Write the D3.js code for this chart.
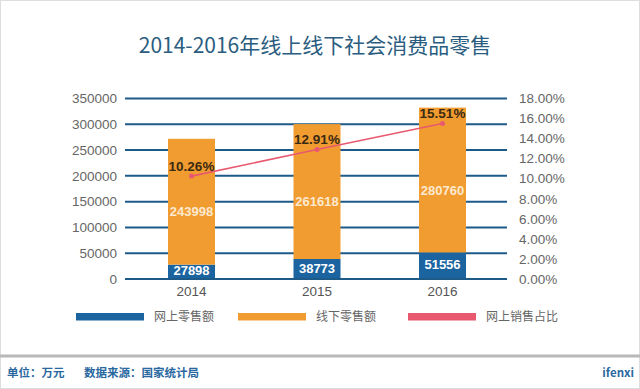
<!DOCTYPE html>
<html>
<head>
<meta charset="utf-8">
<script src="https://cdn.jsdelivr.net/npm/d3@7"></script>
<style>
  html, body { margin: 0; padding: 0; background: #fff; }
  svg text { font-family: "Noto Sans CJK SC", "Noto Sans", sans-serif; }
  svg text.num { font-family: "Liberation Sans", "DejaVu Sans", sans-serif; }
</style>
</head>
<body>
<div id="chart"></div>
<script>
// Data
const years = ["2014", "2015", "2016"];
const online = [27898, 38773, 51556];
const offline = [243998, 261618, 280760];
const onlineShare = [10.26, 12.91, 15.51];
const leftTicks = [0, 50000, 100000, 150000, 200000, 250000, 300000, 350000];
const rightTicks = [0, 2, 4, 6, 8, 10, 12, 14, 16, 18];

const colors = {
    online: "#1b64a0",
    offline: "#f19c30",
    share: "#e8596f",
    grid: "#1d5a87",
    axisText: "#666"
};

const W = 640, H = 389;
const plot = { left: 125, right: 507, top: 98.5, bottom: 279 };

const svg = d3.select("#chart").append("svg")
    .attr("width", W)
    .attr("height", H);

// frame
svg.append("rect")
    .attr("x", 0.5).attr("y", 0.5)
    .attr("width", W - 1).attr("height", H - 1)
    .attr("fill", "#fff")
    .attr("stroke", "#ddd");

// title
svg.append("text")
    .attr("x", 315).attr("y", 53)
    .attr("text-anchor", "middle")
    .attr("font-size", 21)
    .attr("fill", "#2b5d80")
    .text("2014-2016年线上线下社会消费品零售");

// scales
const x = d3.scalePoint().domain(years).range([191.5, 442.5]);
const yL = d3.scaleLinear().domain([0, 350000]).range([plot.bottom, plot.top]);
const yR = d3.scaleLinear().domain([0, 18]).range([plot.bottom, plot.top]);
const barW = 47;

// gridlines
svg.append("g").selectAll("line")
    .data(leftTicks)
    .join("line")
    .attr("x1", plot.left).attr("x2", plot.right)
    .attr("y1", d => yL(d)).attr("y2", d => yL(d))
    .attr("stroke", colors.grid)
    .attr("stroke-width", 2);

// left axis labels
svg.append("g").selectAll("text")
    .data(leftTicks)
    .join("text")
    .attr("class", "num")
    .attr("x", 117)
    .attr("y", d => yL(d))
    .attr("dy", "0.35em")
    .attr("text-anchor", "end")
    .attr("font-size", 13.5)
    .attr("fill", colors.axisText)
    .text(d => d);

// right axis labels
svg.append("g").selectAll("text")
    .data(rightTicks)
    .join("text")
    .attr("class", "num")
    .attr("x", 519)
    .attr("y", d => yR(d))
    .attr("dy", "0.35em")
    .attr("font-size", 13.5)
    .attr("fill", colors.axisText)
    .text(d => d.toFixed(2) + "%");

// stacked bars
const rows = years.map((yr, i) => ({ year: yr, on: online[i], off: offline[i], share: onlineShare[i] }));

const bars = svg.append("g");
bars.selectAll(".on")
    .data(rows)
    .join("rect")
    .attr("class", "on")
    .attr("x", d => x(d.year) - barW / 2)
    .attr("y", d => yL(d.on))
    .attr("width", barW)
    .attr("height", d => yL(0) - yL(d.on))
    .attr("fill", colors.online);

bars.selectAll(".off")
    .data(rows)
    .join("rect")
    .attr("class", "off")
    .attr("x", d => x(d.year) - barW / 2)
    .attr("y", d => yL(d.on + d.off))
    .attr("width", barW)
    .attr("height", d => yL(d.on) - yL(d.on + d.off))
    .attr("fill", colors.offline);

// baseline over bars
svg.append("line")
    .attr("x1", plot.left).attr("x2", plot.right)
    .attr("y1", yL(0)).attr("y2", yL(0))
    .attr("stroke", colors.grid)
    .attr("stroke-width", 2);

// bar value labels
svg.append("g").selectAll("text")
    .data(rows)
    .join("text")
    .attr("class", "num")
    .attr("x", d => x(d.year))
    .attr("y", d => (yL(0) + yL(d.on)) / 2 - 1)
    .attr("dy", "0.35em")
    .attr("text-anchor", "middle")
    .attr("font-size", 13)
    .attr("font-weight", "bold")
    .attr("fill", "#fff")
    .text(d => d.on);

svg.append("g").selectAll("text")
    .data(rows)
    .join("text")
    .attr("class", "num")
    .attr("x", d => x(d.year))
    .attr("y", d => (yL(d.on) + yL(d.on + d.off)) / 2 + 10)
    .attr("dy", "0.35em")
    .attr("text-anchor", "middle")
    .attr("font-size", 13)
    .attr("font-weight", "bold")
    .attr("fill", "#fde9cf")
    .text(d => d.off);

// category labels
svg.append("g").selectAll("text")
    .data(years)
    .join("text")
    .attr("class", "num")
    .attr("x", d => x(d))
    .attr("y", 291)
    .attr("dy", "0.35em")
    .attr("text-anchor", "middle")
    .attr("font-size", 13.5)
    .attr("fill", "#555")
    .text(d => d);

// share line
const line = d3.line().x(d => x(d.year)).y(d => yR(d.share));
svg.append("path")
    .datum(rows)
    .attr("d", line)
    .attr("fill", "none")
    .attr("stroke", colors.share)
    .attr("stroke-width", 1.6);

svg.append("g").selectAll("circle")
    .data(rows)
    .join("circle")
    .attr("cx", d => x(d.year))
    .attr("cy", d => yR(d.share))
    .attr("r", 2.5)
    .attr("fill", colors.share);

svg.append("g").selectAll("text")
    .data(rows)
    .join("text")
    .attr("class", "num")
    .attr("x", d => x(d.year))
    .attr("y", d => yR(d.share) - 10)
    .attr("dy", "0.35em")
    .attr("text-anchor", "middle")
    .attr("font-size", 13.5)
    .attr("font-weight", "bold")
    .attr("fill", "#3b2a12")
    .text(d => d.share.toFixed(2) + "%");

// legend
const legend = [
    { label: "网上零售额", color: colors.online, x: 76 },
    { label: "线下零售额", color: colors.offline, x: 238 },
    { label: "网上销售占比", color: colors.share, x: 408 }
];
const lg = svg.append("g").selectAll("g")
    .data(legend)
    .join("g")
    .attr("transform", d => `translate(${d.x},313)`);
lg.append("rect")
    .attr("width", 68).attr("height", 7.5)
    .attr("fill", d => d.color);
lg.append("text")
    .attr("x", 78).attr("y", 4)
    .attr("dy", "0.35em")
    .attr("font-size", 12)
    .attr("fill", "#666")
    .text(d => d.label);

// footer
svg.append("line")
    .attr("x1", 0).attr("x2", W)
    .attr("y1", 356).attr("y2", 356)
    .attr("stroke", "#b8b8b8")
    .attr("stroke-width", 3);

const footer = svg.append("g")
    .attr("font-size", 11.5)
    .attr("font-weight", "bold")
    .attr("fill", "#2a68a0");
footer.append("text").attr("x", 7).attr("y", 373).attr("dy", "0.35em").text("单位：万元");
footer.append("text").attr("x", 84).attr("y", 373).attr("dy", "0.35em").text("数据来源：国家统计局");
footer.append("text").attr("x", 634).attr("y", 373).attr("dy", "0.35em")
    .attr("text-anchor", "end").text("ifenxi");
</script>
</body>
</html>
